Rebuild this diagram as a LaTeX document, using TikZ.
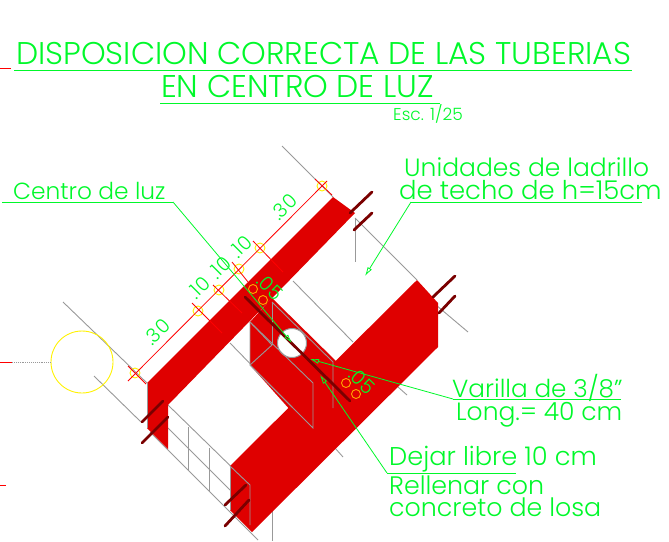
\documentclass[tikz,border=0pt]{standalone}
\usepackage{fontspec}
\setmainfont{Poppins}[UprightFont=* Light]
\usetikzlibrary{arrows.meta}
\definecolor{losa}{HTML}{DF0000}
\definecolor{varilla}{HTML}{7A0000}
\definecolor{leyenda}{HTML}{00F82A}
\tikzset{
  grisline/.style={draw=black!40, line width=0.9pt},
  barra/.style={draw=varilla, line width=2.8pt, line cap=round},
  cota/.style={draw=red, line width=0.8pt},
  marca/.style={circle, draw=yellow, line width=0.9pt, minimum size=10pt, inner sep=0pt},
  tubo/.style={circle, draw=orange!70!yellow, line width=0.9pt, minimum size=9pt, inner sep=0pt},
  guia/.style={draw=leyenda, line width=0.8pt},
  flecha/.style={guia, -{Latex[open,length=9pt,width=5pt]}},
  txt/.style={text=leyenda, inner sep=0pt, anchor=base west},
  titulo/.style={txt, font=\fontsize{31.4}{32}\selectfont},
  nota/.style={txt, font=\fontsize{#1}{24}\selectfont},
  cifra/.style={text=leyenda, inner sep=0pt, font=\fontsize{19.5}{20}\selectfont}
}
\begin{document}
\begin{tikzpicture}[x=1pt,y=-1pt]
\useasboundingbox (0,0) rectangle (669,541);

% lineas de ladrillo
\draw[grisline] (63,302)--(147,383);
\draw[grisline] (94,376)--(141,422);
\draw[grisline] (168,405)--(250,485);
\draw[grisline] (168,428)--(230,490);
\draw[grisline] (150,432)--(258,540);
\draw[grisline] (188,427)--(188,470);
\draw[grisline] (209,448)--(209,492);
\draw[grisline] (272,510)--(272,541);
\draw[grisline] (230,343)--(300,415);
\draw[grisline] (282,146)--(333,197);
\draw[grisline] (293,281)--(353,342);
\draw[grisline] (355,218)--(417,280);
\draw[grisline] (355,218)--(355,262);
\draw[grisline] (436,305)--(468,332);
\draw[grisline] (398,387)--(407,395);
\draw[grisline] (335,448)--(343,457);

% vigas
\fill[losa] (272,298)--(340,365)--(292,412)--(250,365)--(250,322)--cycle;
\fill[losa] (147,383)--(333,197)--(355,213)--(168,405)--(168,449)--(147,428)--cycle;
\fill[losa] (230,466)--(417,280)--(438,303)--(438,347)--(252,532)--(230,510)--cycle;

% hueco
\node[circle, fill=white, draw=black!40, line width=1pt, minimum size=29pt, inner sep=0pt] (hueco) at (292,343) {};

% aristas
\draw[grisline] (147,383)--(147,428);
\draw[grisline] (230,466)--(230,510);
\draw[grisline] (230,466)--(250,485)--(250,525);
\draw[grisline] (250,322)--(250,365)--(292,407);
\draw[grisline] (250,322)--(272,345)--(250,365);
\draw[grisline] (272,302)--(272,345);
\draw[grisline] (272,302)--(333,362)--(333,408);
\draw[grisline] (250,365)--(313,428)--(313,383)--(250,322);

% varillas
\draw[barra] (142,422)--(163,401);
\draw[barra] (142,443)--(168,417);
\draw[barra] (225,505)--(246,485);
\draw[barra] (225,526)--(249,500);
\draw[barra] (350,213)--(372,192);
\draw[barra] (354,230)--(372,213);
\draw[barra] (433,297)--(455,276);
\draw[barra] (439,313)--(455,296);
\draw[barra] (245,297)--(350,401);

% cotas
\node[marca] (m1) at (135,373) {};
\node[marca] (m2) at (198,311) {};
\node[marca] (m3) at (219,290) {};
\node[marca] (m4) at (239,269) {};
\node[marca] (m5) at (260,248) {};
\node[marca] (m6) at (322,186) {};
\draw[cota] (128,381)--(327,181);
\draw[cota] (128,366)--(146,384);
\draw[cota] (192,303)--(222,333);
\draw[cota] (213,285)--(242,313);
\draw[cota] (232,262)--(248,282);
\draw[cota] (253,241)--(283,272);
\draw[cota] (315,179)--(332,195);
\node[cifra, rotate=45] (c1) at (157,332) {.30};
\node[cifra, rotate=45] (c2) at (199,288) {.10};
\node[cifra, rotate=45] (c3) at (220,268) {.10};
\node[cifra, rotate=45] (c4) at (241,247) {.10};
\node[cifra, rotate=45] (c5) at (284,207) {.30};
\node[cifra, rotate=-45] (c6) at (270,287) {.05};
\node[cifra, rotate=-45] (c7) at (362,381) {.05};

% tubos
\node[tubo] (t1) at (253,289) {};
\node[tubo] (t2) at (263,300) {};
\node[tubo] (t3) at (346,383) {};
\node[tubo] (t4) at (356,394) {};

% eje izquierdo
\node[circle, draw=yellow, line width=0.9pt, minimum size=62pt, inner sep=0pt] (eje) at (82,362) {};
\coordinate (e0) at (0,362);
\coordinate (e1) at (12,362);
\draw[cota] (e0)--(e1);
\draw[grisline, densely dotted] (e1)--(eje.west);
\coordinate (e2) at (0,485);
\coordinate (e3) at (6,485);
\draw[cota] (e2)--(e3);
\coordinate (e4) at (0,68);
\coordinate (e5) at (11,68);
\draw[cota] (e4)--(e5);

% titulo
\node[titulo] (tit1) at (16,64) {DISPOSICION CORRECTA DE LAS TUBERIAS};
\node[titulo] (tit2) at (161,97) {EN CENTRO DE LUZ};
\node[nota=17] (esc) at (393,120) {Esc. 1/25};
\coordinate (s1) at (14,70);
\coordinate (s2) at (632,70);
\coordinate (s3) at (160,103);
\coordinate (s4) at (440,103);
\draw[guia] (s1)--(s2);
\draw[guia] (s3)--(s4);

% leyendas
\node[nota=23.3] (luz) at (13,199) {Centro de luz};
\coordinate (l1) at (2,202);
\coordinate (l2) at (173,202);
\draw[guia] (l1)--(l2);
\draw[flecha] (l2)--(hueco.center);

\node[nota=25] (uni1) at (404,176) {Unidades de ladrillo};
\node[nota=25.9] (uni2) at (399,199) {de techo de h=15cm};
\coordinate (u1) at (642,202);
\coordinate (u2) at (411,202);
\coordinate (u3) at (365,276);
\draw[guia] (u1)--(u2);
\draw[flecha] (u2)--(u3);

\node[nota=24.7] (var1) at (452,397) {Varilla de 3/8"};
\node[nota=25] (var2) at (456,420) {Long.= 40 cm};
\coordinate (v1) at (621,399);
\coordinate (v2) at (453,399);
\coordinate (v3) at (310,359);
\draw[guia] (v1)--(v2);
\draw[flecha] (v2)--(v3);

\node[nota=25.7] (dej) at (389,465) {Dejar libre 10 cm};
\node[nota=25.3] (rel1) at (389,494) {Rellenar con};
\node[nota=25.3] (rel2) at (389,516) {concreto de losa};
\coordinate (d1) at (516,473);
\coordinate (d2) at (387,473);
\coordinate (d3) at (320,375);
\draw[guia] (d1)--(d2);
\draw[flecha] (d2)--(d3);

\end{tikzpicture}
\end{document}
